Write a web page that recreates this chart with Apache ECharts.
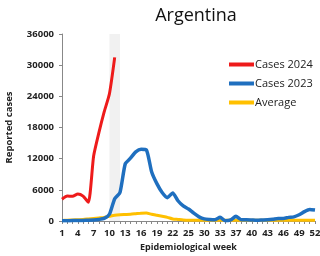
<!DOCTYPE html>
<html><head><meta charset="utf-8">
<script src="https://cdn.jsdelivr.net/npm/echarts@6/dist/echarts.min.js"></script>
<style>html,body{margin:0;padding:0;background:#fff}#c{width:320px;height:256px}</style>
</head><body><div id="c"></div>
<script>
const tickLabels = ["1","4","7","10","13","16","19","22","25","30","33","37","40","43","46","49","52"];
const categories = ["1","2","3","4","5","6","7","8","9","10","11","12","13","14","15","16","17","18","19","20","21","22","23","24","25","26","27","28","29","30","31","32","33","34","35","36","37","38","39","40","41","42","43","44","45","46","47","48","49"];
const cases2024 = [4200,4800,4750,5200,4800,3600,12500,17000,21000,24500,31500];
const cases2023 = [50,60,80,100,120,150,200,300,500,1300,4300,5500,11000,12100,13300,13800,13700,9500,7200,5500,4500,5400,3900,2900,2300,1500,800,400,300,250,700,50,200,900,250,250,200,150,200,250,350,500,500,700,800,1200,1800,2200,2100];
const average = [100,150,200,250,300,400,500,600,700,900,1100,1200,1250,1300,1400,1500,1550,1300,1100,900,700,400,300,200,150,150,150,150,150,150,150,150,150,150,150,150,150,150,150,150,150,150,150,150,150,150,150,150,150];
const yTicks = [0,6000,12000,18000,24000,30000,36000];

const chart = echarts.init(document.getElementById('c'), null, {renderer:'canvas'});
const font = '"Open Sans", "DejaVu Sans", sans-serif';
chart.setOption({
  animation:false,
  textStyle:{fontFamily:font},
  title:{text:'Argentina', left:191, top:2, textAlign:'center',
    textStyle:{fontFamily:font, fontSize:18, fontWeight:'normal', color:'#111'}},
  legend:{orient:'vertical', left:224, top:54, itemGap:8, itemWidth:25, itemHeight:4, icon:'rect',
    textStyle:{fontFamily:font, fontSize:11, color:'#222', padding:[0,0,0,-4]},
    data:['Cases 2024','Cases 2023','Average']},
  grid:{left:62, right:5, top:34, bottom:35, containLabel:false, outerBoundsMode:'none'},
  xAxis:{type:'category', data:categories, boundaryGap:false,
    name:'Epidemiological week', nameLocation:'middle', nameGap:22,
    nameTextStyle:{fontFamily:font, fontSize:9, fontWeight:'bold', color:'#222'},
    axisLine:{lineStyle:{color:'#888', width:1}},
    axisTick:{show:true, interval:0, length:3, lineStyle:{color:'#888'}},
    axisLabel:{interval:2, margin:7, fontFamily:font, fontSize:9.5, fontWeight:'bold', color:'#222',
      formatter:(v,i)=> tickLabels[Math.round(i/3)] || ''},
    splitLine:{show:false}},
  yAxis:{type:'value', min:yTicks[0], max:yTicks[yTicks.length-1], interval:6000,
    name:'Reported cases', nameLocation:'middle', nameGap:48, nameRotate:90,
    nameTextStyle:{fontFamily:font, fontSize:9.5, fontWeight:'bold', color:'#222'},
    axisLine:{show:true, lineStyle:{color:'#888', width:1}},
    axisTick:{show:true, length:3, lineStyle:{color:'#888'}},
    axisLabel:{margin:8, fontFamily:font, fontSize:9.5, fontWeight:'bold', color:'#222',
      formatter:(v)=> String(v)},
    splitLine:{show:false}},
  series:[
    {name:'Cases 2024', type:'line', data:cases2024, showSymbol:false, smooth:0.2, z:5,
      lineStyle:{color:'#ee1b1b', width:3}, itemStyle:{color:'#ee1b1b'},
      markArea:{silent:true, itemStyle:{color:'rgba(225,225,225,0.45)'},
        data:[[{xAxis:'10'},{xAxis:'12'}]]}},
    {name:'Cases 2023', type:'line', data:cases2023, showSymbol:false, smooth:0.2, z:4,
      lineStyle:{color:'#1f6fbf', width:3.5}, itemStyle:{color:'#1f6fbf'}},
    {name:'Average', type:'line', data:average, showSymbol:false, smooth:0.2, z:3,
      lineStyle:{color:'#ffc000', width:3}, itemStyle:{color:'#ffc000'}}
  ]
});
</script></body></html>
